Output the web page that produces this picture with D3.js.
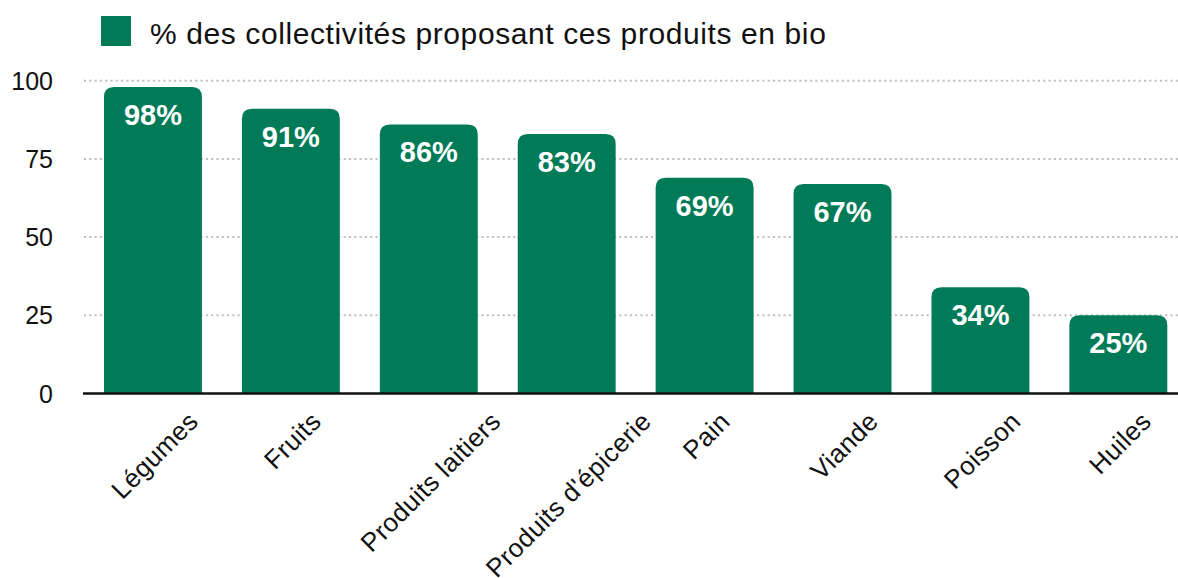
<!DOCTYPE html>
<html>
<head>
<meta charset="utf-8">
<script src="https://cdn.jsdelivr.net/npm/d3@7"></script>
<style>
  body { margin: 0; background: #fff; }
  svg { display: block; font-family: "Liberation Sans", Arial, sans-serif; }
</style>
</head>
<body>
<div id="chart"></div>
<script>
const categories = ["Légumes", "Fruits", "Produits laitiers", "Produits d'épicerie", "Pain", "Viande", "Poisson", "Huiles"];
const values = [98, 91, 86, 83, 69, 67, 34, 25];
const yTicks = [0, 25, 50, 75, 100];
const legendLabel = "% des collectivités proposant ces produits en bio";

const width = 1178;
const height = 578;
const green = "#007a57";

const svg = d3.select("#chart")
    .append("svg")
    .attr("width", width)
    .attr("height", height);

const x = d3.scaleBand()
    .domain(categories)
    .range([84, 1187.3])
    .paddingInner(0.29)
    .paddingOuter(0.145);

const y = d3.scaleLinear()
    .domain([0, 100])
    .range([393.5, 80.7]);

// grid
svg.append("g")
    .selectAll("line")
    .data(yTicks.filter(d => d > 0))
    .join("line")
    .attr("x1", 84)
    .attr("x2", width)
    .attr("y1", d => y(d))
    .attr("y2", d => y(d))
    .style("stroke", "#bdbdbd")
    .style("stroke-width", 2)
    .style("stroke-dasharray", "2,3.3");

// y labels
svg.append("g")
    .selectAll("text")
    .data(yTicks)
    .join("text")
    .attr("x", 53)
    .attr("y", d => y(d))
    .attr("dy", "0.36em")
    .attr("text-anchor", "end")
    .attr("font-size", "25px")
    .style("fill", "#111")
    .text(d => d);

// bars with rounded top corners
const r = 10;
const barPath = d => {
    const x0 = x(d.cat), w = x.bandwidth();
    const top = y(d.val), bottom = y(0);
    return `M${x0},${bottom}V${top + r}Q${x0},${top} ${x0 + r},${top}H${x0 + w - r}Q${x0 + w},${top} ${x0 + w},${top + r}V${bottom}Z`;
};
const rows = categories.map((c, i) => ({ cat: c, val: values[i] }));

svg.append("g")
    .selectAll("path")
    .data(rows)
    .join("path")
    .attr("d", barPath)
    .style("fill", green);

svg.append("g")
    .selectAll("text")
    .data(rows)
    .join("text")
    .attr("x", d => x(d.cat) + x.bandwidth() / 2)
    .attr("y", d => y(d.val) + 38)
    .attr("text-anchor", "middle")
    .attr("font-size", "29px")
    .attr("font-weight", "bold")
    .style("fill", "#fff")
    .text(d => d.val + "%");

// x axis line
svg.append("line")
    .attr("x1", 83)
    .attr("x2", width)
    .attr("y1", y(0))
    .attr("y2", y(0))
    .style("stroke", "#111")
    .style("stroke-width", 2.5);

// x labels, rotated
svg.append("g")
    .selectAll("text")
    .data(categories)
    .join("text")
    .attr("text-anchor", "end")
    .attr("font-size", "26px")
    .attr("letter-spacing", "0.4px")
    .style("fill", "#111")
    .text(d => d)
    .attr("transform", function (d) {
        const w = this.getComputedTextLength();
        const cx = x(d) + x.bandwidth() / 2;
        return `translate(${cx + 8 + w * 0.354},423) rotate(-45)`;
    });

// legend
svg.append("rect")
    .attr("x", 101)
    .attr("y", 16)
    .attr("width", 30)
    .attr("height", 30)
    .style("fill", green);

svg.append("text")
    .attr("x", 150)
    .attr("y", 43.5)
    .attr("font-size", "30px")
    .attr("letter-spacing", "0.6px")
    .style("fill", "#111")
    .text(legendLabel);
</script>
</body>
</html>
